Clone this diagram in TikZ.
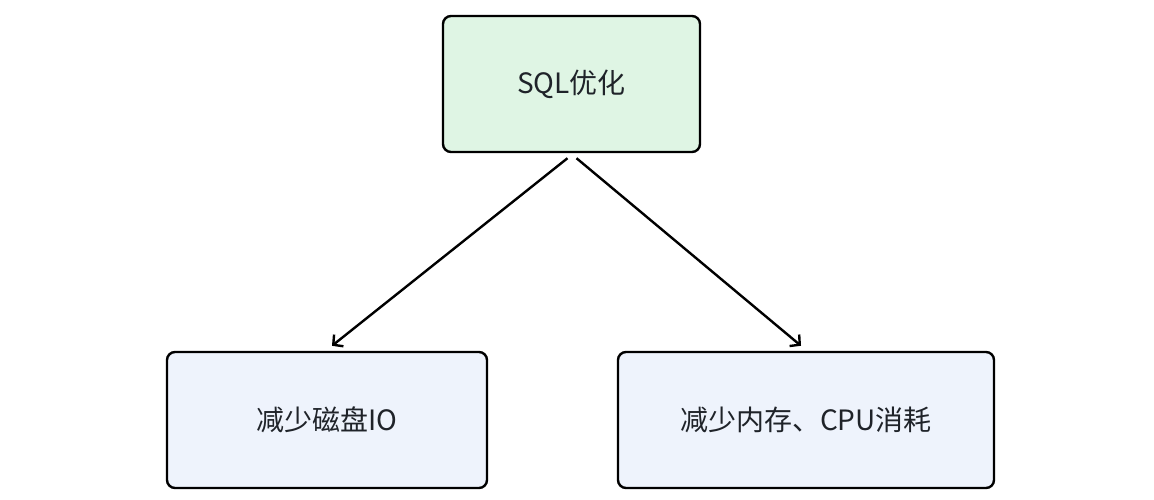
\documentclass[tikz,border=0pt]{standalone}
\usepackage{fontspec}
\setmainfont{Noto Sans CJK SC}
\usepackage{xcolor}
\usetikzlibrary{arrows.meta, positioning}

\definecolor{topfill}{HTML}{DFF5E4}
\definecolor{leaffill}{HTML}{EEF3FC}
\definecolor{textgray}{HTML}{1F2329}

\tikzset{
    box/.style={draw, line width=2.4pt, rounded corners=8pt, minimum height=136pt,
        font=\fontsize{28}{32}\selectfont, text=textgray, inner sep=0pt},
}

\begin{document}
\begin{tikzpicture}[x=1pt, y=-1pt, >={Straight Barb[length=7pt, width=15pt, line width=2.4pt]}]
    \useasboundingbox (0,0) rectangle (1154,500);

    % Root
    \node[box, fill=topfill, minimum width=257pt] (sql) at (571.5,84) {SQL优化};

    % Leaves
    \node[box, fill=leaffill, minimum width=320pt] (disk) at (327,420) {减少磁盘IO};
    \node[box, fill=leaffill, minimum width=376pt] (mem) at (806,420) {减少内存、CPU消耗};

    % Arrows
    \draw[->, line width=2.4pt] ([xshift=-4pt, yshift=-5pt]sql.south) -- ([xshift=5pt, yshift=5pt]disk.north);
    \draw[->, line width=2.4pt] ([xshift=5pt, yshift=-5pt]sql.south) -- ([xshift=-5pt, yshift=5pt]mem.north);

\end{tikzpicture}
\end{document}
